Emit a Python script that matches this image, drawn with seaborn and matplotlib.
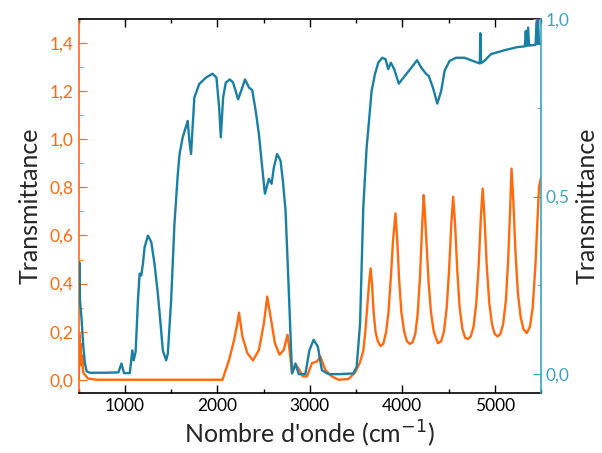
import matplotlib
matplotlib.use("Agg")
import matplotlib.pyplot as plt
from matplotlib.ticker import MultipleLocator, FuncFormatter
import seaborn as sns
import pandas as pd

# blue spectrum (right axis)
blue_wn = [500, 507, 514, 532, 550, 568, 586, 620, 800, 930, 962, 990, 1053, 1080, 1095,
           1116, 1141, 1159, 1177, 1195, 1213, 1249, 1285, 1320, 1356, 1382, 1410, 1446,
           1464, 1500, 1535, 1571, 1591, 1625, 1679, 1697, 1715, 1751, 1804, 1876, 1947,
           1990, 2019, 2037, 2062, 2091, 2134, 2170, 2224, 2263, 2299, 2342, 2377, 2414,
           2449, 2485, 2514, 2557, 2586, 2611, 2646, 2683, 2708, 2737, 2770, 2807, 2844,
           2880, 2951, 2995, 3041, 3087, 3130, 3202, 3310, 3471, 3506, 3543, 3578, 3614,
           3632, 3668, 3686, 3704, 3740, 3783, 3818, 3847, 3876, 3912, 3962, 4027, 4098,
           4159, 4205, 4259, 4285, 4331, 4378, 4421, 4457, 4511, 4582, 4672, 4743, 4815,
           4838, 4844, 4850, 4887, 4958, 5102, 5245, 5325, 5335, 5345, 5360, 5371, 5385,
           5440, 5455, 5460, 5468, 5478, 5500]
blue_t = [0.20, 0.315, 0.208, 0.152, 0.077, 0.030, 0.008, 0.004, 0.004, 0.005, 0.030, 0.003,
          0.003, 0.067, 0.039, 0.063, 0.208, 0.283, 0.278, 0.311, 0.358, 0.390, 0.372, 0.311,
          0.227, 0.152, 0.067, 0.039, 0.058, 0.208, 0.42, 0.56, 0.62, 0.667, 0.713, 0.657,
          0.62, 0.779, 0.817, 0.835, 0.846, 0.835, 0.751, 0.667, 0.779, 0.821, 0.83, 0.821,
          0.774, 0.802, 0.83, 0.807, 0.80, 0.742, 0.676, 0.582, 0.508, 0.55, 0.536, 0.582,
          0.62, 0.601, 0.545, 0.461, 0.25, 0.002, 0.03, 0.0, 0.0, 0.067, 0.097, 0.077, 0.011,
          0.0, 0.0, 0.002, 0.02, 0.142, 0.47, 0.638, 0.69, 0.798, 0.821, 0.845, 0.877, 0.891,
          0.887, 0.859, 0.877, 0.859, 0.818, 0.84, 0.863, 0.884, 0.863, 0.845, 0.84, 0.807,
          0.762, 0.798, 0.854, 0.882, 0.891, 0.891, 0.884, 0.877, 0.875, 0.96, 0.876, 0.882,
          0.901, 0.912, 0.921, 0.923, 0.966, 0.924, 0.976, 0.925, 0.926, 0.927, 0.994, 0.93,
          1.0, 0.93, 0.93]

# orange spectrum (left axis)
orange_wn = [500, 505, 510, 515, 520, 530, 540, 550, 570, 600, 700, 2055, 2127, 2181, 2216,
             2234, 2270, 2324, 2385, 2449, 2503, 2539, 2575, 2622, 2672, 2718, 2758, 2780,
             2808, 2851, 2887, 2923, 2969, 3023, 3077, 3113, 3167, 3238,
             3310, 3418, 3489, 3540, 3578, 3600, 3620, 3640, 3657, 3672, 3690, 3710, 3735,
             3765, 3795, 3825, 3850, 3875, 3900, 3926, 3945, 3965, 3990, 4020, 4050, 4081,
             4110, 4140, 4165, 4190, 4212, 4231, 4240, 4260, 4285, 4310, 4340, 4385, 4420,
             4450, 4480, 4505, 4530, 4550, 4570, 4595, 4620, 4650, 4680, 4708, 4740, 4770,
             4800, 4825, 4850, 4869, 4888, 4912, 4940, 4970, 5000, 5030, 5060, 5090, 5120,
             5145, 5165, 5181, 5200, 5225, 5250, 5280, 5310, 5345, 5380, 5410, 5440, 5460,
             5478, 5500]
orange_t = [0.0, 0.05, 0.19, 0.08, 0.15, 0.06, 0.10, 0.03, 0.02, 0.005, 0.0, 0.0, 0.083,
            0.166, 0.235, 0.279, 0.18, 0.111, 0.08, 0.124, 0.235, 0.346, 0.263, 0.152, 0.104,
            0.124, 0.187, 0.124, 0.028, 0.062, 0.041, 0.014, 0.014, 0.069, 0.076, 0.097,
            0.041, 0.014,
            0.0, 0.003, 0.03, 0.07, 0.12, 0.2, 0.3, 0.4, 0.463, 0.40, 0.28, 0.2, 0.16,
            0.14, 0.15, 0.2, 0.28, 0.42, 0.58, 0.692, 0.58, 0.42, 0.28, 0.2, 0.16, 0.149,
            0.155, 0.19, 0.27, 0.42, 0.62, 0.768, 0.72, 0.58, 0.40, 0.28, 0.2, 0.152, 0.16,
            0.2, 0.3, 0.45, 0.65, 0.761, 0.65, 0.45, 0.3, 0.21, 0.175, 0.169, 0.18, 0.22,
            0.32, 0.47, 0.68, 0.795, 0.68, 0.48, 0.32, 0.23, 0.19, 0.18, 0.19, 0.23, 0.33,
            0.5, 0.7, 0.878, 0.75, 0.52, 0.36, 0.26, 0.21, 0.194, 0.22, 0.3, 0.48, 0.65,
            0.8, 0.84]

ORANGE = "#ff6a0d"
BLUE = "#1a80a3"
BLUE_AX = "#3aa3c4"

sns.set_style("ticks")
plt.rcParams["font.family"] = ["Lato", "DejaVu Sans"]

fig = plt.figure(figsize=(6.02, 4.53), dpi=100)
ax = fig.add_axes([0.1307, 0.1325, 0.768, 0.8255])
ax2 = ax.twinx()

df_o = pd.DataFrame({"wn": orange_wn, "t": orange_t})
df_b = pd.DataFrame({"wn": blue_wn, "t": blue_t})
sns.lineplot(data=df_o, x="wn", y="t", ax=ax, color=ORANGE, lw=1.7, sort=False)
sns.lineplot(data=df_b, x="wn", y="t", ax=ax2, color=BLUE, lw=1.7, sort=False)

ax.set_xlim(500, 5500)
ax.set_ylim(-0.055, 1.5)
ax2.set_ylim(-0.053, 1.0)

ax.xaxis.set_major_locator(MultipleLocator(1000))
ax.xaxis.set_minor_locator(MultipleLocator(500))
ax.yaxis.set_major_locator(MultipleLocator(0.2))
ax.yaxis.set_minor_locator(MultipleLocator(0.1))
ax2.yaxis.set_major_locator(MultipleLocator(0.5))
ax2.yaxis.set_minor_locator(MultipleLocator(0.25))

comma = FuncFormatter(lambda v, p: f"{v:.1f}".replace(".", ","))
ax.yaxis.set_major_formatter(comma)
ax2.yaxis.set_major_formatter(comma)

ax.tick_params(axis="x", which="both", direction="in", top=True, labelsize=12.5,
               colors="black")
ax.tick_params(axis="x", which="major", length=6, width=1)
ax.tick_params(axis="x", which="minor", length=3, width=1)
ax.tick_params(axis="y", which="both", direction="in", colors=ORANGE, labelsize=12.5)
ax.tick_params(axis="y", which="major", length=6)
ax.tick_params(axis="y", which="minor", length=3)
ax2.tick_params(axis="y", which="both", direction="in", colors=BLUE_AX, labelsize=12.5)
ax2.tick_params(axis="y", which="major", length=6)
ax2.tick_params(axis="y", which="minor", length=3)

for s in ["top", "bottom"]:
    ax.spines[s].set_color("black")
    ax.spines[s].set_linewidth(1.2)
ax.spines["left"].set_color(ORANGE)
ax.spines["left"].set_linewidth(1.2)
ax.spines["right"].set_visible(False)
ax2.spines["left"].set_visible(False)
ax2.spines["top"].set_visible(False)
ax2.spines["bottom"].set_visible(False)
ax2.spines["right"].set_color(BLUE_AX)
ax2.spines["right"].set_linewidth(1.2)

ax.set_xlabel("Nombre d'onde (cm$^{-1}$)", fontsize=18, labelpad=3)
ax.set_ylabel("Transmittance", fontsize=18, labelpad=6)
ax2.set_ylabel("Transmittance", fontsize=18, labelpad=4, rotation=90)

fig.savefig("out.png", dpi=100)
